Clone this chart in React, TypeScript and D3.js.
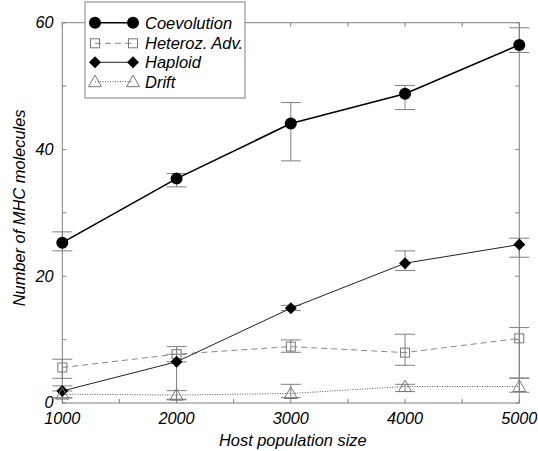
import React from "react";
import * as d3 from "d3";

const pops = [1000, 2000, 3000, 4000, 5000];

const coevolution = [25.3, 35.4, 44.1, 48.8, 56.5];
const coevolutionLo = [24.0, 34.1, 38.2, 46.3, 55.3];
const coevolutionHi = [27.0, 36.2, 47.4, 50.1, 59.2];

const heteroz = [5.6, 7.7, 8.9, 7.95, 10.2];
const heterozLo = [3.9, 6.5, 8.0, 5.95, 3.95];
const heterozHi = [6.9, 8.9, 9.95, 10.85, 11.9];

const haploid = [1.9, 6.5, 14.95, 22.05, 25.0];
const haploidLo = [0.8, 0.5, 14.6, 20.9, 23.0];
const haploidHi = [2.7, 7.7, 15.4, 24.0, 26.0];

const drift = [1.4, 1.25, 1.5, 2.6, 2.6];
const driftLo = [0.8, 0.6, 0.85, 1.8, 1.7];
const driftHi = [1.9, 1.95, 2.95, 2.95, 3.9];

const xTickLabels = [1000, 2000, 3000, 4000, 5000];
const yTickLabels = [0, 20, 40, 60];
const legendLabels = ["Coevolution", "Heteroz. Adv.", "Haploid", "Drift"];

const W = 538;
const H = 451;
const L = 62.3, R = 519.3, T = 22.7, B = 403;
const FONT = "'Liberation Sans', Arial, Helvetica, sans-serif";
const GRAY = "#808080";

type Kind = "circle" | "square" | "diamond" | "triangle";

function Marker({ kind, cx, cy }: { kind: Kind; cx: number; cy: number }) {
  if (kind === "circle") return <circle cx={cx} cy={cy} r={6} fill="#000" />;
  if (kind === "square")
    return <rect x={cx - 4.5} y={cy - 4.5} width={9} height={9} fill="none" stroke="#777" strokeWidth={1} />;
  if (kind === "diamond")
    return <path d={`M${cx},${cy - 6}L${cx + 6},${cy}L${cx},${cy + 6}L${cx - 6},${cy}Z`} fill="#000" />;
  return (
    <path
      d={`M${cx},${cy - 6.5}L${cx + 6.5},${cy + 5}L${cx - 6.5},${cy + 5}Z`}
      fill="none"
      stroke="#777"
      strokeWidth={1}
    />
  );
}

export default function App() {
  const x = d3.scaleLinear().domain([1000, 5000]).range([L, R]);
  const y = d3.scaleLinear().domain([0, 60]).range([B, T]);

  const series = [
    { vals: coevolution, lo: coevolutionLo, hi: coevolutionHi, kind: "circle" as Kind, stroke: "#000", width: 1.6, dash: undefined as string | undefined },
    { vals: heteroz, lo: heterozLo, hi: heterozHi, kind: "square" as Kind, stroke: "#888", width: 1, dash: "6,4" },
    { vals: haploid, lo: haploidLo, hi: haploidHi, kind: "diamond" as Kind, stroke: "#222", width: 1, dash: undefined },
    { vals: drift, lo: driftLo, hi: driftHi, kind: "triangle" as Kind, stroke: "#555", width: 1, dash: "1,1.5" },
  ];

  const line = d3
    .line<number>()
    .x((_, i) => x(pops[i]))
    .y((d) => y(d));

  const xTicks = d3.range(1000, 5001, 500);
  const yTicks = d3.range(0, 61, 10);
  const tl = 4;

  const lgX = 85, lgY = 2, lgW = 160, lgH = 96;
  const rowY = [22.7, 43.3, 62.3, 81.7];

  return (
    <svg width={W} height={H} style={{ position: "absolute", left: 0, top: 0, background: "#fff" }}>
      {/* frame */}
      <rect x={L} y={T} width={R - L} height={B - T} fill="none" stroke={GRAY} strokeWidth={1} />
      {xTicks.map((t) => (
        <g key={"xt" + t}>
          <line x1={x(t)} x2={x(t)} y1={B} y2={B - tl} stroke={GRAY} />
          <line x1={x(t)} x2={x(t)} y1={T} y2={T + tl} stroke={GRAY} />
        </g>
      ))}
      {yTicks.map((t) => (
        <g key={"yt" + t}>
          <line x1={L} x2={L + tl} y1={y(t)} y2={y(t)} stroke={GRAY} />
          <line x1={R} x2={R - tl} y1={y(t)} y2={y(t)} stroke={GRAY} />
        </g>
      ))}
      {/* tick labels */}
      {xTickLabels.map((t) => (
        <text key={"xl" + t} x={x(t)} y={424} textAnchor="middle" fontFamily={FONT} fontStyle="italic" fontSize={16.3}>
          {t}
        </text>
      ))}
      {yTickLabels.map((t) => (
        <text key={"yl" + t} x={53.5} y={y(t) - (t === 0 ? 1 : 0)} dy="0.35em" textAnchor="end" fontFamily={FONT} fontStyle="italic" fontSize={16.3}>
          {t}
        </text>
      ))}
      <text x={(L + R) / 2 + 2} y={446} textAnchor="middle" fontFamily={FONT} fontStyle="italic" fontSize={16.4}>
        Host population size
      </text>
      <text
        transform={`translate(25,${(T + B) / 2 - 5}) rotate(-90)`}
        textAnchor="middle"
        fontFamily={FONT}
        fontStyle="italic"
        fontSize={16.4}
      >
        Number of MHC molecules
      </text>
      {/* error bars */}
      {series.map((s, si) =>
        pops.map((p, i) => (
          <g key={"e" + si + "-" + i} stroke={GRAY} strokeWidth={1}>
            <line x1={x(p)} x2={x(p)} y1={y(s.lo[i])} y2={y(s.hi[i])} />
            <line x1={x(p) - 10} x2={x(p) + 10} y1={y(s.lo[i])} y2={y(s.lo[i])} />
            <line x1={x(p) - 10} x2={x(p) + 10} y1={y(s.hi[i])} y2={y(s.hi[i])} />
          </g>
        ))
      )}
      {/* lines */}
      {series.map((s, si) => (
        <path key={"l" + si} d={line(s.vals) || ""} fill="none" stroke={s.stroke} strokeWidth={s.width} strokeDasharray={s.dash} />
      ))}
      {/* markers */}
      {series.map((s, si) =>
        s.vals.map((v, i) => <Marker key={"m" + si + "-" + i} kind={s.kind} cx={x(pops[i])} cy={y(v)} />)
      )}
      {/* legend */}
      <rect x={lgX} y={lgY} width={lgW} height={lgH} fill="#fff" stroke={GRAY} strokeWidth={1} />
      {series.map((s, si) => (
        <g key={"lg" + si}>
          <line x1={95} x2={133} y1={rowY[si]} y2={rowY[si]} stroke={s.stroke} strokeWidth={s.width} strokeDasharray={s.dash} />
          <Marker kind={s.kind} cx={95} cy={rowY[si]} />
          <Marker kind={s.kind} cx={133} cy={rowY[si]} />
          <text x={145} y={rowY[si]} dy="0.36em" fontFamily={FONT} fontStyle="italic" fontSize={16.5}>
            {legendLabels[si]}
          </text>
        </g>
      ))}
    </svg>
  );
}
